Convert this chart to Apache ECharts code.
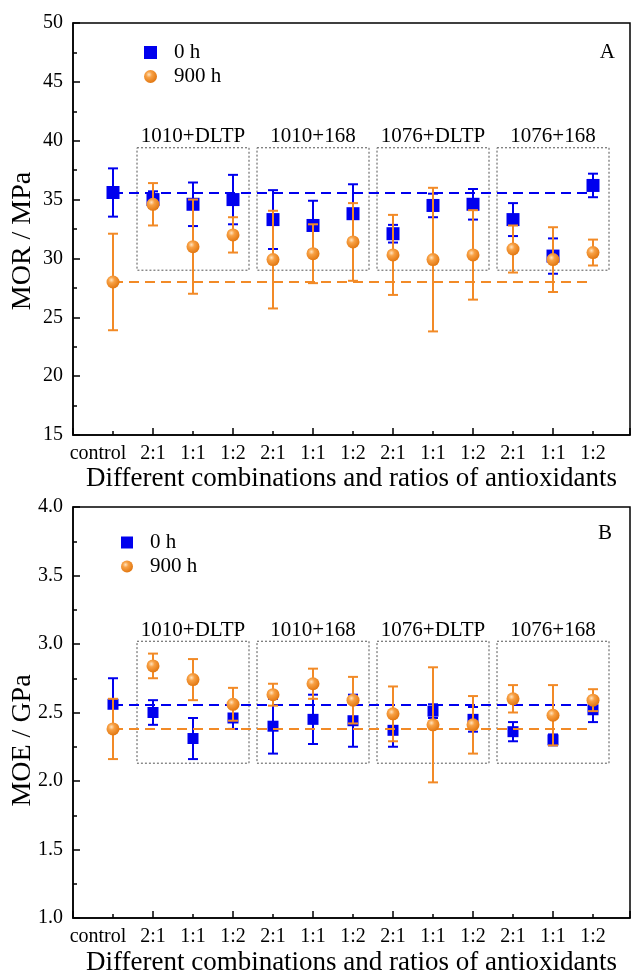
<html>
    <head>
        <meta charset="utf-8">
        <title>MOR / MOE</title>
        <script src="https://cdn.jsdelivr.net/npm/echarts/dist/echarts.min.js"></script>
        <style>
            body { margin: 0; background: #fff; }
            #main { width: 631px; height: 975px; }
        </style>
    </head>
    <body>
        <div id="main"></div>
        <script type="text/javascript">
            // x categories (control + 4 groups x 3 ratios)
            var categories = ['control', '2:1', '1:1', '1:2', '2:1', '1:1', '1:2', '2:1', '1:1', '1:2', '2:1', '1:1', '1:2'];
            var groups = ['1010+DLTP', '1010+168', '1076+DLTP', '1076+168'];

            // panel A: MOR (MPa)
            var mor0 = [35.6, 35.0, 34.6, 35.0, 33.3, 32.8, 33.8, 32.1, 34.5, 34.6, 33.3, 30.2, 36.2];
            var mor0Err = [2.05, 0.7, 1.85, 2.1, 2.5, 2.1, 2.5, 0.75, 1.0, 1.3, 1.4, 1.5, 1.0];
            var mor900 = [28.0, 34.6, 31.0, 32.0, 29.9, 30.4, 31.4, 30.3, 29.9, 30.3, 30.8, 29.9, 30.5];
            var mor900Err = [4.1, 1.8, 4.0, 1.5, 4.15, 2.5, 3.3, 3.4, 6.1, 3.8, 2.0, 2.75, 1.1];

            // panel B: MOE (GPa)
            var moe0 = [2.56, 2.50, 2.31, 2.46, 2.40, 2.45, 2.44, 2.37, 2.51, 2.45, 2.36, 2.30, 2.52];
            var moe0Err = [0.19, 0.09, 0.15, 0.08, 0.20, 0.18, 0.19, 0.12, 0.05, 0.09, 0.07, 0.04, 0.09];
            var moe900 = [2.38, 2.84, 2.74, 2.56, 2.63, 2.71, 2.59, 2.49, 2.41, 2.41, 2.60, 2.48, 2.59];
            var moe900Err = [0.22, 0.09, 0.15, 0.12, 0.08, 0.11, 0.17, 0.20, 0.42, 0.21, 0.10, 0.22, 0.08];

            var blue = '#0000ee';
            var orange = '#f28a26';
            var font = 'Liberation Serif';
            // label positions: a blank one at the axis start, then one per category
            var labelPos = [-1].concat(categories.map(function (c, i) { return i; }));

            var sphere = {
                type: 'radial', x: 0.38, y: 0.35, r: 0.65,
                colorStops: [
                    { offset: 0, color: '#ffe4c0' },
                    { offset: 0.35, color: '#f8a145' },
                    { offset: 1, color: '#e27812' }
                ]
            };

            function pts(vals) {
                return vals.map(function (v, i) { return [i, v]; });
            }
            function errPts(vals, errs) {
                return vals.map(function (v, i) { return [i, v, errs[i]]; });
            }
            function errorBar(color) {
                return function (params, api) {
                    var x = api.value(0), y = api.value(1), e = api.value(2);
                    var hi = api.coord([x, y + e]);
                    var lo = api.coord([x, y - e]);
                    var cap = 5;
                    var st = { stroke: color, lineWidth: 2 };
                    return {
                        type: 'group',
                        children: [
                            { type: 'line', shape: { x1: hi[0], y1: hi[1], x2: lo[0], y2: lo[1] }, style: st },
                            { type: 'line', shape: { x1: hi[0] - cap, y1: hi[1], x2: hi[0] + cap, y2: hi[1] }, style: st },
                            { type: 'line', shape: { x1: lo[0] - cap, y1: lo[1], x2: lo[0] + cap, y2: lo[1] }, style: st }
                        ]
                    };
                };
            }
            function boxes(lowY, highY) {
                return groups.map(function (g, k) {
                    return [
                        { name: g, coord: [3 * k + 0.6, highY] },
                        { coord: [3 * k + 3.4, lowY] }
                    ];
                });
            }
            function refLine(y, color) {
                return {
                    silent: true,
                    symbol: 'none',
                    label: { show: false },
                    lineStyle: { color: color, type: [10, 6], width: 2 },
                    data: [[{ coord: [0, y] }, { coord: [12, y] }]]
                };
            }

            function xAxisFor(gi, nameGap) {
                return {
                    type: 'value', gridIndex: gi, min: -1, max: 12.925, interval: 2,
                    name: 'Different combinations and ratios of antioxidants',
                    nameLocation: 'middle', nameGap: nameGap,
                    nameTextStyle: { fontFamily: font, fontSize: 27, color: '#000' },
                    axisLine: { onZero: false, lineStyle: { color: '#000', width: 1.5 } },
                    axisTick: { inside: true, length: 7, lineStyle: { color: '#000', width: 1.5 } },
                    minorTick: { show: true, splitNumber: 2, length: 4, lineStyle: { color: '#000', width: 1.5 } },
                    splitLine: { show: false },
                    axisLabel: {
                        customValues: labelPos,
                        hideOverlap: false,
                        formatter: function (v) {
                            if (v < 0) return '';
                            if (v === 0) return '{c|' + categories[0] + '}';
                            return categories[v];
                        },
                        rich: { c: { fontFamily: font, fontSize: 20, color: '#000', padding: [0, 30, 0, 0] } },
                        fontFamily: font, fontSize: 20, color: '#000', margin: 9
                    }
                };
            }
            function yAxisFor(gi, min, max, interval, name, pad, digits) {
                return {
                    type: 'value', gridIndex: gi, min: min, max: max, interval: interval,
                    name: name, nameLocation: 'middle', nameGap: 36, nameMoveOverlap: false,
                    nameTextStyle: { fontFamily: font, fontSize: 28, color: '#000', padding: [0, pad, 0, 0] },
                    axisLine: { show: true, onZero: false, lineStyle: { color: '#000', width: 1.5 } },
                    axisTick: { inside: true, length: 7, lineStyle: { color: '#000', width: 1.5 } },
                    minorTick: { show: true, splitNumber: 2, length: 4, lineStyle: { color: '#000', width: 1.5 } },
                    splitLine: { show: false },
                    axisLabel: {
                        showMinLabel: true, showMaxLabel: true,
                        formatter: function (v) { return v.toFixed(digits); },
                        fontFamily: font, fontSize: 20, color: '#000', margin: 10
                    }
                };
            }

            function panelSeries(gi, v0, e0, v900, e900, boxLow, boxHigh, size0) {
                return [
                    {
                        name: '0 h err', type: 'custom', xAxisIndex: gi, yAxisIndex: gi,
                        renderItem: errorBar(blue), data: errPts(v0, e0), z: 3,
                        markArea: {
                            silent: true,
                            itemStyle: { color: 'rgba(0,0,0,0)', borderColor: '#555', borderWidth: 1, borderType: [2, 2] },
                            label: { show: true, position: 'top', distance: 0, fontFamily: font, fontSize: 21, color: '#000' },
                            data: boxes(boxLow, boxHigh)
                        }
                    },
                    {
                        name: '0 h', type: 'scatter', xAxisIndex: gi, yAxisIndex: gi,
                        symbol: 'rect', symbolSize: size0, data: pts(v0), z: 4,
                        itemStyle: { color: blue, opacity: 1 },
                        markLine: refLine(v0[0], blue)
                    },
                    {
                        name: '900 h err', type: 'custom', xAxisIndex: gi, yAxisIndex: gi,
                        renderItem: errorBar(orange), data: errPts(v900, e900), z: 5
                    },
                    {
                        name: '900 h', type: 'scatter', xAxisIndex: gi, yAxisIndex: gi,
                        symbol: 'circle', symbolSize: 13, data: pts(v900), z: 6,
                        itemStyle: { color: sphere, opacity: 1 },
                        markLine: refLine(v900[0], orange)
                    }
                ];
            }

            var dom = document.getElementById('main');
            var myChart = echarts.init(dom);

            var legendText = { fontFamily: font, fontSize: 21, color: '#000', padding: [0, 0, 0, 12] };
            var legendData = [{ name: '0 h', icon: 'rect' }, { name: '900 h', icon: 'circle' }];

            var option = {
                animation: false,
                backgroundColor: '#fff',
                title: [
                    { text: 'A', right: 11, top: 37, textStyle: { fontFamily: font, fontSize: 21, fontWeight: 'normal', color: '#000' } },
                    { text: 'B', right: 14, top: 518, textStyle: { fontFamily: font, fontSize: 21, fontWeight: 'normal', color: '#000' } }
                ],
                legend: [
                    { data: legendData, orient: 'vertical', left: 139, top: 37, itemWidth: 13, itemHeight: 13, itemGap: 3, textStyle: legendText, selectedMode: false },
                    { data: legendData, orient: 'vertical', left: 116, top: 527, itemWidth: 12, itemHeight: 12, itemGap: 3, textStyle: legendText, selectedMode: false }
                ],
                grid: [
                    { left: 73, top: 23, width: 557, height: 412, show: true, borderColor: '#000', borderWidth: 1.5, containLabel: false, outerBoundsMode: 'none' },
                    { left: 73, top: 507, width: 557, height: 411, show: true, borderColor: '#000', borderWidth: 1.5, containLabel: false, outerBoundsMode: 'none' }
                ],
                xAxis: [xAxisFor(0, 30), xAxisFor(1, 31)],
                yAxis: [
                    yAxisFor(0, 15, 50, 5, 'MOR / MPa', 24, 0),
                    yAxisFor(1, 1, 4, 0.5, 'MOE / GPa', 56, 1)
                ],
                series: []
                    .concat(panelSeries(0, mor0, mor0Err, mor900, mor900Err, 29, 39.4, 13))
                    .concat(panelSeries(1, moe0, moe0Err, moe900, moe900Err, 2.13, 3.02, 11))
            };
            if (option && typeof option === "object") {
                myChart.setOption(option, true);
            }
        </script>
    </body>
</html>
